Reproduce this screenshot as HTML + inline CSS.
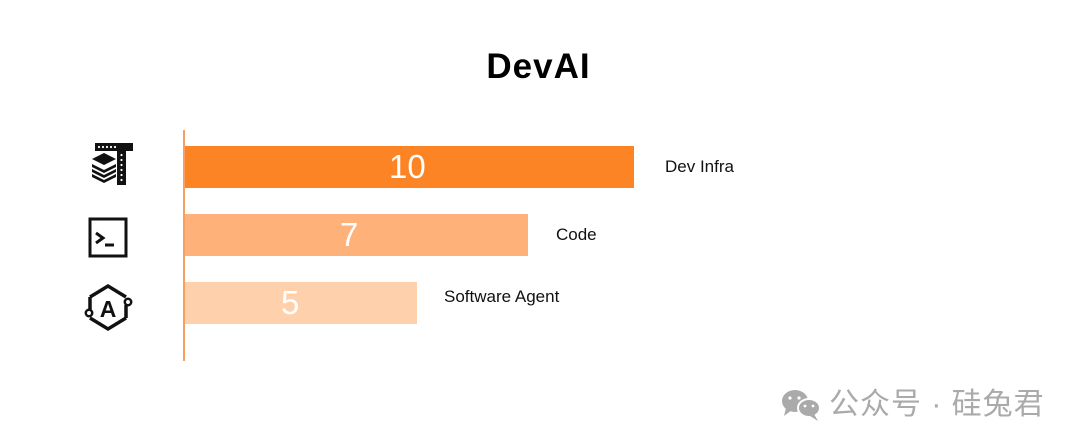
<!DOCTYPE html>
<html><head><meta charset="utf-8"><style>
html,body{margin:0;padding:0;background:#fff;}
body{width:1080px;height:448px;position:relative;overflow:hidden;font-family:"Liberation Sans",sans-serif;}
.a{position:absolute;}
.bar{position:absolute;left:185px;height:42px;}
.num{position:absolute;color:#fff;font-size:33px;line-height:42px;}
.lbl{position:absolute;font-size:17px;color:#111;line-height:20px;}
</style></head><body>
<div class="a" style="left:0;width:1077px;top:47px;text-align:center;font-size:35px;font-weight:bold;letter-spacing:1px;color:#000;">DevAI</div>
<div class="a" style="left:183px;top:130px;width:2px;height:231px;background:#f7a060;"></div>
<div class="bar" style="top:146px;width:449px;background:#fd8424;"></div>
<div class="bar" style="top:214px;width:343px;background:#feb27a;"></div>
<div class="bar" style="top:282px;width:232px;background:#fed0ab;"></div>
<div class="num" style="left:389px;top:146px;">10</div>
<div class="num" style="left:340px;top:214px;">7</div>
<div class="num" style="left:281px;top:282px;">5</div>
<div class="lbl" style="left:665px;top:157px;">Dev Infra</div>
<div class="lbl" style="left:556px;top:225px;">Code</div>
<div class="lbl" style="left:444px;top:287px;">Software Agent</div>
<svg class="a" style="left:0;top:0" width="1080" height="448">
 <g fill="#111">
  <rect x="95" y="143" width="38" height="8"/>
  <rect x="117" y="143" width="9" height="42"/>
  <g fill="#fff"><circle cx="99" cy="147" r="1.1"/><circle cx="103" cy="147" r="1.1"/><circle cx="107" cy="147" r="1.1"/><circle cx="111" cy="147" r="1.1"/><circle cx="115" cy="147" r="1.1"/>
  <circle cx="121.5" cy="155" r="1.1"/><circle cx="121.5" cy="160" r="1.1"/><circle cx="121.5" cy="165" r="1.1"/><circle cx="121.5" cy="170" r="1.1"/><circle cx="121.5" cy="175" r="1.1"/><circle cx="121.5" cy="180" r="1.1"/></g>
  <polygon points="92,159 104,153 116,159 104,165"/>
  <polygon points="92,164 104,170 116,164 116,167 104,173 92,167"/>
  <polygon points="92,169 104,175 116,169 116,172 104,178 92,172"/>
  <polygon points="92,174 104,180 116,174 116,177 104,183 92,177"/>
 </g>
 <rect x="90" y="219" width="36" height="37" fill="none" stroke="#111" stroke-width="3"/>
 <polyline points="96,233 103,238 96,243" fill="none" stroke="#111" stroke-width="3"/>
 <line x1="105" y1="245" x2="114" y2="245" stroke="#111" stroke-width="3"/>
 <g fill="none" stroke="#111" stroke-width="3.5">
  <polyline points="90,297 108,286 126,297"/>
  <polyline points="90,318 108,329 126,318"/>
  <line x1="90" y1="297" x2="90" y2="310"/>
  <line x1="126" y1="305" x2="126" y2="318"/>
 </g>
 <circle cx="89" cy="313" r="3.2" fill="#fff" stroke="#111" stroke-width="2.5"/>
 <circle cx="128" cy="302" r="3.2" fill="#fff" stroke="#111" stroke-width="2.5"/>
 <text x="108" y="317" text-anchor="middle" font-family="Liberation Sans,sans-serif" font-size="23" font-weight="bold" fill="#111">A</text>
 <g fill="#aaa">
  <ellipse cx="795" cy="401" rx="13" ry="11"/>
  <polygon points="786,408 784,416 792,410"/>
  <ellipse cx="809" cy="408" rx="11" ry="9" stroke="#fff" stroke-width="2"/>
  <polygon points="814,414 818,421 810,416"/>
 </g>
 <g fill="#fff"><circle cx="790" cy="398" r="1.6"/><circle cx="799" cy="398" r="1.6"/><circle cx="805" cy="406" r="1.4"/><circle cx="813" cy="406" r="1.4"/></g>
</svg>
<div class="a" style="left:829px;top:387px;font-size:30px;letter-spacing:1px;color:#aaa;font-family:'Liberation Sans','Noto Sans CJK SC',sans-serif;line-height:36px;white-space:nowrap;">公众号 · 硅兔君</div>
</body></html>
